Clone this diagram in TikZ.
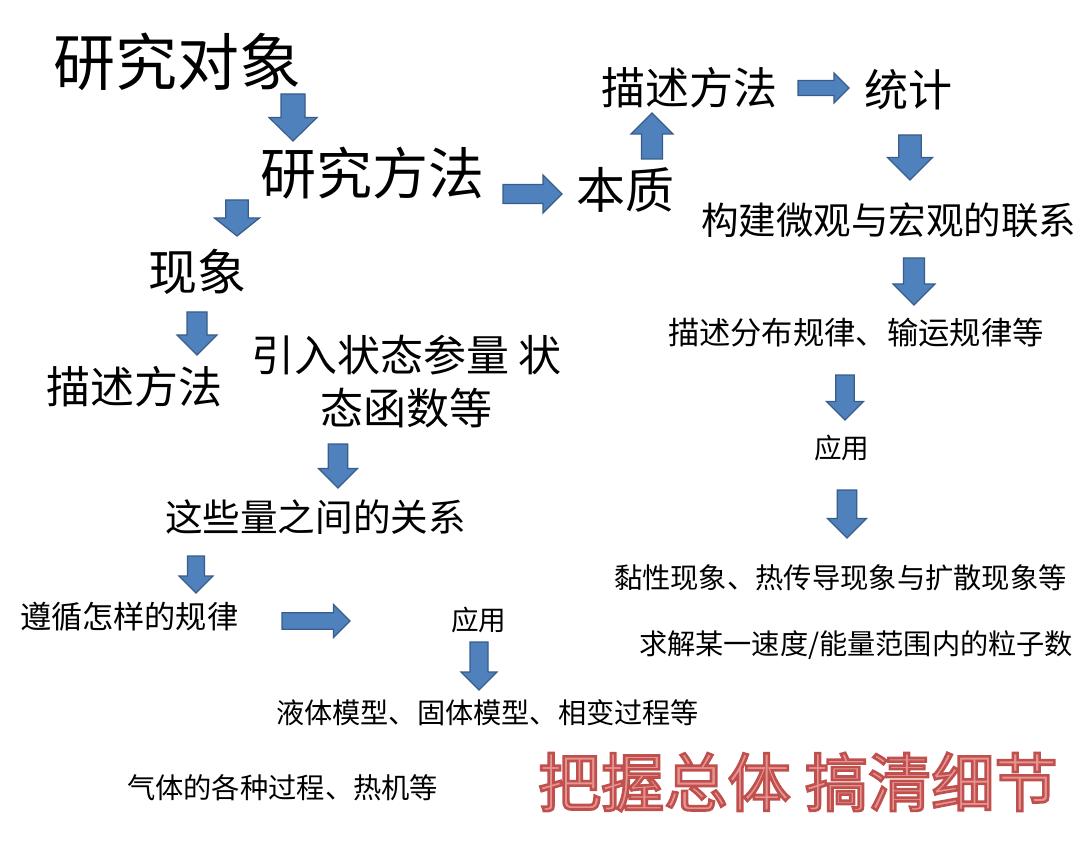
\documentclass[tikz,border=0pt]{standalone}
\usepackage{fontspec}
\setmainfont{Noto Sans CJK SC}
\definecolor{arrowfill}{HTML}{4F81BD}
\definecolor{arrowline}{HTML}{385D8A}
\definecolor{redline}{HTML}{C0504D}
\newcommand\outlinedred[1]{\special{pdf:literal direct 0.753 0.314 0.302 RG 0.90 0.58 0.57 rg 2 Tr 2.6 w}#1\special{pdf:literal direct 0 Tr 1 w}}
\tikzset{
  barrow/.style={fill=arrowfill,draw=arrowline,line width=1.2pt,line join=miter},
  txt/.style={anchor=west,inner sep=0pt,outer sep=0pt,text=black},
}
\newcommand\parrowdown[5]{%
  \pgfmathsetmacro\hw{#4/2}\pgfmathsetmacro\sw{#4/4}\pgfmathsetmacro\hl{min(#4,#5)/2}%
  \draw[barrow] (#2-\sw,#3) -- (#2+\sw,#3) -- (#2+\sw,#3+#5-\hl) -- (#2+\hw,#3+#5-\hl)
    -- (#2,#3+#5) -- (#2-\hw,#3+#5-\hl) -- (#2-\sw,#3+#5-\hl) -- cycle;
  \coordinate (#1) at (#2,#3+#5/2);}
\newcommand\parrowup[5]{% name, cx, bottom, W, H
  \pgfmathsetmacro\hw{#4/2}\pgfmathsetmacro\sw{#4/4}\pgfmathsetmacro\hl{min(#4,#5)/2}%
  \draw[barrow] (#2-\sw,#3) -- (#2+\sw,#3) -- (#2+\sw,#3-#5+\hl) -- (#2+\hw,#3-#5+\hl)
    -- (#2,#3-#5) -- (#2-\hw,#3-#5+\hl) -- (#2-\sw,#3-#5+\hl) -- cycle;
  \coordinate (#1) at (#2,#3-#5/2);}
\newcommand\parrowright[5]{% name, left, cy, L, T
  \pgfmathsetmacro\hw{#5/2}\pgfmathsetmacro\sw{#5/4}\pgfmathsetmacro\hl{min(#4,#5)/2}%
  \draw[barrow] (#2,#3-\sw) -- (#2,#3+\sw) -- (#2+#4-\hl,#3+\sw) -- (#2+#4-\hl,#3+\hw)
    -- (#2+#4,#3) -- (#2+#4-\hl,#3-\hw) -- (#2+#4-\hl,#3-\sw) -- cycle;
  \coordinate (#1) at (#2+#4/2,#3);}
\begin{document}
\begin{tikzpicture}[x=1pt,y=-1pt]
\path[use as bounding box,fill=white] (0,0) rectangle (1080,845);

% left column
\node[txt,font=\fontsize{62}{62}\selectfont] (obj) at (53,62) {研究对象};
\node[txt,font=\fontsize{56}{56}\selectfont] (meth) at (260,173) {研究方法};
\node[txt,font=\fontsize{49}{49}\selectfont] (phen) at (148,272) {现象};
\node[txt,font=\fontsize{44}{44}\selectfont] (descL) at (46,387) {描述方法};
\node[txt,font=\fontsize{43}{43}\selectfont] (intro1) at (251,355) {引入状态参量 状};
\node[txt,font=\fontsize{43}{43}\selectfont] (intro2) at (320,408) {态函数等};
\node[txt,font=\fontsize{37.6}{37.6}\selectfont] (rel) at (165,517) {这些量之间的关系};
\node[txt,font=\fontsize{31.2}{31.2}\selectfont] (law) at (20,617) {遵循怎样的规律};
\node[txt,font=\fontsize{27.6}{27.6}\selectfont] (appL) at (451,620) {应用};
\node[txt,font=\fontsize{28.2}{28.2}\selectfont] (liq) at (276,713) {液体模型、固体模型、相变过程等};
\node[txt,font=\fontsize{28.3}{28.3}\selectfont] (gas) at (127,788) {气体的各种过程、热机等};

% right column
\node[txt,font=\fontsize{49}{49}\selectfont] (ess) at (576,190) {本质};
\node[txt,font=\fontsize{44}{44}\selectfont] (descR) at (601,88) {描述方法};
\node[txt,font=\fontsize{44}{44}\selectfont] (stat) at (864,90) {统计};
\node[txt,font=\fontsize{37.5}{37.5}\selectfont] (link) at (701,220) {构建微观与宏观的联系};
\node[txt,font=\fontsize{31.3}{31.3}\selectfont] (dist) at (668,333) {描述分布规律、输运规律等};
\node[txt,font=\fontsize{27.6}{27.6}\selectfont] (appR) at (814,448) {应用};
\node[txt,font=\fontsize{28.3}{28.3}\selectfont] (visc) at (614,578) {黏性现象、热传导现象与扩散现象等};
\node[txt,font=\fontsize{28.2}{28.2}\selectfont] (solve) at (639,645) {求解某一速度/能量范围内的粒子数};

% slogan
\node[txt,font=\fontsize{63.2}{63.2}\selectfont,text=redline] (slogan) at (538,782) {\outlinedred{把握总体 搞清细节}};

% block arrows
\parrowdown{a1}{293}{94}{48}{47}
\parrowright{a2}{503}{194}{59}{38}
\parrowup{a3}{652}{159}{42}{46}
\parrowright{a4}{798}{88}{51}{30}
\parrowdown{a5}{910}{135}{45}{45}
\parrowdown{a6}{914}{258}{42}{47}
\parrowdown{a7}{845}{375}{37}{45}
\parrowdown{a8}{847}{490}{39}{48}
\parrowdown{a9}{237}{200}{45}{36}
\parrowdown{a10}{197}{312}{40}{43}
\parrowdown{a11}{338}{444}{39}{44}
\parrowdown{a12}{196}{556}{34}{37}
\parrowright{a13}{282}{621}{68}{33}
\parrowdown{a14}{479}{642}{36}{48}
\end{tikzpicture}
\end{document}
